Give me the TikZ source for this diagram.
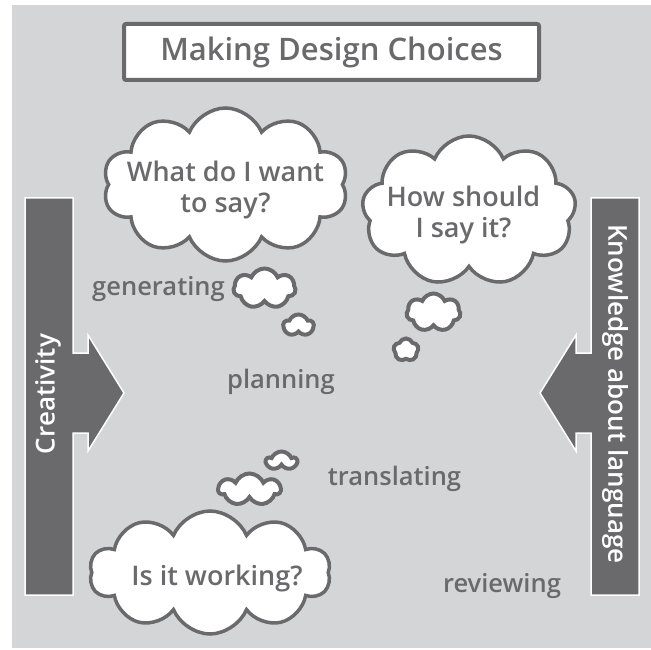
\documentclass[tikz,border=0pt]{standalone}
\usepackage{fontspec}
\setmainfont{Open Sans}[UprightFont=* Semibold]
\usetikzlibrary{shapes.symbols}
\definecolor{panelgray}{HTML}{D4D5D7}
\definecolor{inkgray}{HTML}{6A6A6C}

\begin{document}
\begin{tikzpicture}[
		x=1pt, y=-1pt,
		thought/.style={cloud, cloud puffs=#1, cloud puff arc=135, cloud ignores aspect,
			draw=inkgray, fill=white, line width=3.5pt, inner sep=0pt},
		thought/.default=9,
		say/.style={text=inkgray, align=center, font=\fontsize{27}{31}\selectfont},
		stage/.style={text=inkgray, anchor=base, font=\fontsize{25.5}{30}\selectfont},
		bar/.style={fill=inkgray, draw=white, line width=1.5pt},
		side/.style={text=white, font=\fontsize{26}{30}\selectfont}
	]
		\useasboundingbox (0,0) rectangle (651,650);
		\fill[panelgray] (12,5) rectangle (651,648);

		% the two side arrows
		\draw[bar] (25,198) -- (73,198) -- (73,353) -- (88,353) -- (88,335) -- (124,393)
			-- (88,451) -- (88,433) -- (73,433) -- (73,595) -- (25,595) -- cycle;
		\draw[bar] (639,198) -- (591,198) -- (591,353) -- (576,353) -- (576,335) -- (540,393)
			-- (576,451) -- (576,433) -- (591,433) -- (591,595) -- (639,595) -- cycle;
		\node[side, rotate=90] (cre) at (48,394) {Creativity};
		\node[side, rotate=-90] (kal) at (615,394) {Knowledge about language};

		% title
		\node[draw=inkgray, fill=white, line width=4pt, rounded corners=2pt,
			minimum width=415pt, minimum height=56pt, text=inkgray,
			font=\fontsize{31}{36}\selectfont] (T) at (331.5,52) {Making Design Choices};

		% thought clouds
		\node[thought=10, minimum width=245pt, minimum height=153pt] (W) at (225.5,184.5) {};
		\node[thought=9, minimum width=214pt, minimum height=150pt] (H) at (469,211) {};
		\node[thought=10, minimum width=241pt, minimum height=123pt] (R) at (210,572.5) {};
		\node[thought=7, minimum width=62pt, minimum height=40pt, line width=4pt] (Wa) at (264.5,288.5) {};
		\node[thought=5, minimum width=30pt, minimum height=22pt, line width=4pt] (Wb) at (298.5,325.5) {};
		\node[thought=7, minimum width=54pt, minimum height=38pt, line width=4pt] (Ha) at (433.5,312.5) {};
		\node[thought=5, minimum width=25pt, minimum height=23pt, line width=4pt] (Hb) at (406,350) {};
		\node[thought=7, minimum width=62pt, minimum height=32pt, line width=4pt] (Ra) at (249.5,489.5) {};
		\node[thought=5, minimum width=30pt, minimum height=19pt, line width=4pt] (Rb) at (281.5,461) {};

		\node[say] (Wt) at (225.5,190) {What do I want\\to say?};
		\node[say] (Ht) at (463.5,215) {How should\\I say it?};
		\node[say, anchor=base] (Rt) at (217,585) {Is it working?};

		% stages
		\node[stage] (gen) at (158.5,295) {generating};
		\node[stage] (pla) at (281,388) {planning};
		\node[stage] (tra) at (394.5,485) {translating};
		\node[stage] (rev) at (502,592) {reviewing};
	\end{tikzpicture}
\end{document}
